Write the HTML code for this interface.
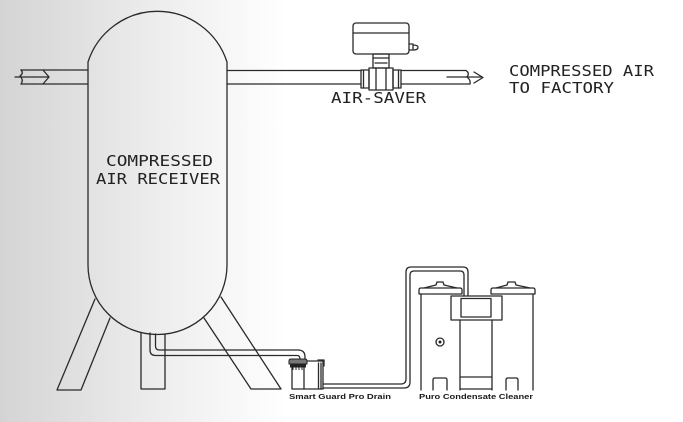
<!DOCTYPE html>
<html>
<head>
<meta charset="utf-8">
<style>
html,body{margin:0;padding:0;}
body{width:683px;height:422px;overflow:hidden;background:#fff;}
svg{display:block;}
.cad{font-family:"DejaVu Sans Mono","Liberation Mono",monospace;font-size:15px;fill:#222;}
.lbl{font-family:"Liberation Sans",Arial,sans-serif;font-size:7.5px;font-weight:bold;fill:#1a1a1a;}
</style>
</head>
<body>
<svg width="683" height="422" viewBox="0 0 683 422" xmlns="http://www.w3.org/2000/svg">
<defs>
<linearGradient id="bg" x1="0" y1="0" x2="1" y2="0">
<stop offset="0" stop-color="#d4d4d4"/>
<stop offset="0.22" stop-color="#ececec"/>
<stop offset="0.42" stop-color="#ffffff"/>
<stop offset="1" stop-color="#ffffff"/>
</linearGradient>
</defs>
<rect x="0" y="0" width="683" height="422" fill="url(#bg)"/>

<g fill="none" stroke="#2a2a2a" stroke-width="1.3" stroke-linejoin="round" stroke-linecap="round">
<!-- Tank -->
<path d="M88 265 L88 62 A73 73 0 0 1 227 62 L227 265 A69.5 69.5 0 0 1 88 265 Z"/>
<!-- legs -->
<path d="M95 299 L57 390 L81 390 L110 318"/>
<path d="M221 297 L281 389 L251 389 L204 318"/>
<path d="M141 332.5 V389 H165 V334"/>

<!-- inlet pipe -->
<path d="M21 70 H88"/>
<path d="M21 84 H88"/>
<path d="M21 70 Q24 73 20 76 Q24 80 21 84"/>
<path d="M15 77 H49"/>
<path d="M43 70 L49 77 L43 84"/>

<!-- outlet pipe -->
<path d="M227 70.5 H361"/>
<path d="M227 84 H361"/>
<path d="M401 70.5 H466"/>
<path d="M401 84 H470"/>
<path d="M466 70.5 Q470 73 467 77 Q471 80 470 84"/>
<path d="M447 77 H482"/>
<path d="M474 72 L483 77.5 L474 83"/>

<!-- valve -->
<rect x="361" y="70" width="8" height="18"/>
<path d="M363.5 70 V88"/>
<rect x="369" y="68" width="24" height="22"/>
<path d="M376 68 V90 M386 68 V90"/>
<rect x="393" y="70" width="8" height="18"/>
<path d="M398.5 70 V88"/>
<rect x="373" y="54" width="16" height="14"/>
<path d="M373 58 H389 M375 63 H387"/>
<rect x="353" y="23" width="56" height="31" rx="3"/>
<path d="M353 33 H409"/>
<path d="M409 44 H413 V50 H409 M413 45 Q418 45 418 47.5 Q418 50 413 50"/>

<!-- pipe from tank bottom to drain -->
<path d="M150 333 V350 Q150 355.5 155.5 355.5 H297 Q300 355.5 300 359"/>
<path d="M155.5 334 V346 Q155.5 350 159.5 350 H298 Q305 350 305 357 V359"/>

<!-- drain -->
<path d="M292 366 V389 H323 V361 H307"/>
<path d="M304 367 V389"/>
<path d="M318.5 363 V389 M321 363 V389"/>
<path d="M318 360 H324 V366"/>

<!-- drain outlet pipe -->
<path d="M323 388 H404 Q410 388 410 382 V275 Q410 271 414 271 H460 Q464 271 464 275 V296"/>
<path d="M323 384 H401 Q406 384 406 379 V272 Q406 267 411 267 H463 Q468 267 468 272 V296"/>

<!-- purifier left tank -->
<path d="M419 294 V290 Q419 288 421 288 H460 Q462 288 462 290 V294 Z"/>
<path d="M424 288 L436 285 L437 282 H443 L444 285 L457 288"/>
<path d="M421 294 V390"/>
<path d="M433 390 V380 Q433 378 435 378 H445 Q447 378 447 380 V390"/>
<circle cx="440" cy="342" r="4"/>
<!-- right tank -->
<path d="M491 294 V290 Q491 288 493 288 H533 Q535 288 535 290 V294 Z"/>
<path d="M496 288 L507 285 L508 282 H515 L516 285 L530 288"/>
<path d="M533 294 V390"/>
<path d="M506 390 V380 Q506 378 508 378 H516 Q518 378 518 380 V390"/>
<!-- center -->
<rect x="451" y="296" width="51" height="24"/>
<rect x="461" y="298.5" width="30" height="18.5"/>
<path d="M460 320 V390 M492 320 V390"/>
<path d="M460 377 H492 M460 389 H492"/>
</g>

<!-- drain cap -->
<path d="M289 364 V361 Q289 359 291 359 H305 Q307 359 307 361 V364 Z" fill="#777" stroke="#222" stroke-width="1"/>
<rect x="290" y="364" width="16" height="3.5" fill="#222"/>
<path d="M293 367.5 V370 M296 367.5 V370 M299 367.5 V370 M302 367.5 V370" stroke="#222" stroke-width="1"/>
<circle cx="440" cy="342" r="1.5" fill="#222"/>

<!-- text -->
<text class="cad" x="106" y="166" textLength="107" lengthAdjust="spacingAndGlyphs">COMPRESSED</text>
<text class="cad" x="96" y="184" textLength="124" lengthAdjust="spacingAndGlyphs">AIR RECEIVER</text>
<text class="cad" x="331" y="103" textLength="95" lengthAdjust="spacingAndGlyphs">AIR-SAVER</text>
<text class="cad" x="509" y="76" textLength="145" lengthAdjust="spacingAndGlyphs">COMPRESSED AIR</text>
<text class="cad" x="509" y="93" textLength="105" lengthAdjust="spacingAndGlyphs">TO FACTORY</text>
<text class="lbl" x="289" y="399" textLength="102" lengthAdjust="spacingAndGlyphs">Smart Guard Pro Drain</text>
<text class="lbl" x="419" y="399" textLength="114" lengthAdjust="spacingAndGlyphs">Puro Condensate Cleaner</text>
</svg>
</body>
</html>
